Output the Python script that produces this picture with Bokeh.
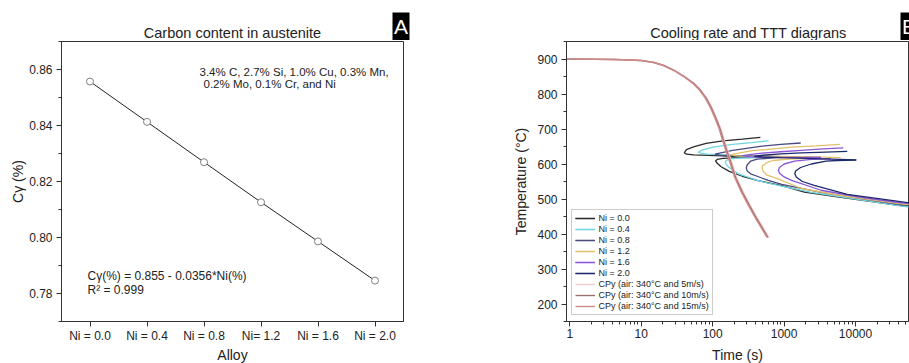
from bokeh.plotting import figure
from bokeh.layouts import row, column
from bokeh.models import (FactorRange, Range1d, SingleIntervalTicker, FixedTicker,
                          Label, Legend, LegendItem, BoxAnnotation, PrintfTickFormatter)
from bokeh.embed import file_html
from bokeh.resources import INLINE

FONT = "Liberation Sans"
TXT = "#222222"
AX = "#333333"

# ---------------- Panel A data ----------------
alloys = ["Ni = 0.0", "Ni = 0.4", "Ni = 0.8", "Ni= 1.2", "Ni = 1.6", "Ni = 2.0"]
c_gamma = [0.8557, 0.8413, 0.8269, 0.8126, 0.7986, 0.7846]

# ---------------- Panel B data ----------------
time_ticks = [1, 10, 100, 1000, 10000]
time_labels = ["1", "10", "100", "1000", "10000"]

# cooling curves (time s, temperature C)
cpy5_t = [0.9, 2.26, 4.25, 6.84, 10, 15.3, 21, 29, 40, 55, 68.5, 83, 97.5, 114, 130, 143, 162, 185, 216, 270, 337, 434, 615]
cpy10_t = [0.9, 2.26, 4.25, 6.84, 10, 15.1, 20.7, 28.4, 39, 53.6, 66.9, 80.9, 94.8, 111, 126, 139, 157, 179, 209, 261, 326, 420, 595]
cpy15_t = [0.9, 2.26, 4.25, 6.84, 10, 14.9, 20.4, 27.9, 38.2, 52.4, 65.3, 78.9, 92.3, 108, 122.5, 135, 152.5, 174, 203, 253, 316, 407, 577]
cpy_T = [900, 899.4, 898.6, 897.1, 895.7, 890, 881.4, 868.5, 851.3, 831.2, 811.2, 788.3, 762.5, 730.9, 702.3, 673.6, 639.3, 604.9, 562, 519, 481.7, 441.5, 390]

# TTT curves: upper curve and lower C-curve for each Ni content
ni00_up_t = [466, 261, 139, 81, 54, 43, 40, 43, 54, 139, 358, 1000]
ni00_up_T = [676, 671, 666, 659, 649, 641, 632, 628, 626, 623, 619, 619]
ni00_lo_t = [675, 223, 139, 116, 110, 116, 130, 171, 261, 420, 927, 1920, 5580, 40200, 66700]
ni00_lo_T = [619, 618, 616, 613, 609, 602, 593, 579, 565, 553, 538, 520, 506, 482, 476]

ni04_up_t = [608, 350, 190, 101, 72, 63, 70, 86, 223, 1273]
ni04_up_T = [666, 661, 656, 648, 640, 634, 630, 628, 624, 619]
ni04_lo_t = [492, 220, 170, 155, 150, 155, 170, 230, 420, 927, 2400, 40200, 66700]
ni04_lo_T = [619, 617, 614, 610, 606, 599, 590, 572, 553, 537, 519, 481, 475]

ni08_up_t = [1708, 900, 492, 190, 130, 108, 125, 190, 675, 3290]
ni08_up_T = [660, 656, 651, 639, 632, 628, 625, 624, 622, 619]
ni08_lo_t = [1746, 791, 420, 340, 305, 296, 305, 340, 420, 600, 927, 3290, 40200, 66700]
ni08_lo_T = [619, 618, 614, 608, 598, 589, 580, 572, 565, 553, 542, 519, 485, 479]

ni12_up_t = [6064, 2800, 1273, 600, 358, 230, 179, 220, 358, 1746, 6200]
ni12_up_T = [656, 652, 648, 642, 638, 631, 626, 623, 622, 621, 618]
ni12_lo_t = [2806, 1273, 700, 560, 500, 492, 510, 580, 791, 1746, 6200, 40200, 66700]
ni12_lo_T = [616, 615, 610, 603, 595, 589, 579, 568, 559, 530, 510, 487, 482]

ni16_up_t = [6750, 3500, 1746, 900, 492, 330, 261, 320, 492, 3290]
ni16_up_T = [646, 643, 639, 635, 631, 627, 624, 621, 619, 619]
ni16_lo_t = [4520, 2400, 1400, 1000, 860, 835, 860, 1000, 1273, 3290, 11700, 40200, 66700]
ni16_lo_T = [615, 613, 608, 600, 590, 582, 574, 563, 553, 525, 505, 490, 485]

ni20_up_t = [7660, 3800, 1746, 900, 500, 382, 500, 927, 10290]
ni20_up_T = [636, 634, 632, 629, 625, 622, 620, 618, 612]
ni20_lo_t = [10190, 5500, 3855, 2400, 1700, 1450, 1413, 1480, 1800, 2640, 7660, 40200, 66700]
ni20_lo_T = [611, 610, 608, 600, 590, 580, 572, 563, 550, 539, 513, 493, 487]

ni_labels = ["Ni = 0.0", "Ni = 0.4", "Ni = 0.8", "Ni = 1.2", "Ni = 1.6", "Ni = 2.0"]
ni_colors = ["#2b2b2b", "#6fd6e0", "#4a4a80", "#e3c06a", "#8a55d6", "#1e2a6e"]
cpy_labels = ["CPy (air: 340°C and 5m/s)", "CPy (air: 340°C and 10m/s)", "CPy (air: 340°C and 15m/s)"]
cpy_colors = ["#f2cccc", "#9b7070", "#d08a8a"]


def style_axis(ax, label_standoff, axis_standoff):
    ax.axis_line_color = AX
    ax.axis_line_width = 1
    ax.major_tick_line_color = AX
    ax.minor_tick_line_color = AX
    ax.major_tick_in = 0
    ax.major_tick_out = 5
    ax.minor_tick_in = 0
    ax.minor_tick_out = 3
    ax.major_label_text_font = FONT
    ax.major_label_text_font_size = "12px"
    ax.major_label_text_color = TXT
    ax.major_label_standoff = label_standoff
    ax.axis_label_text_font = FONT
    ax.axis_label_text_font_size = "14px"
    ax.axis_label_text_font_style = "normal"
    ax.axis_label_text_color = TXT
    ax.axis_label_standoff = axis_standoff


def strip(title, title_x, box_left, letter, letter_x):
    s = figure(width=460, height=40, x_range=Range1d(0, 460), y_range=Range1d(0, 40),
               output_backend="svg", toolbar_location=None, x_axis_location=None,
               y_axis_location=None, min_border=0)
    s.outline_line_color = None
    s.background_fill_color = "white"
    s.border_fill_color = "white"
    s.grid.visible = False
    s.add_layout(Label(x=title_x, y=8, text=title, text_font=FONT, text_font_size="14.5px",
                       text_color=TXT, text_align="center", text_baseline="middle"))
    s.add_layout(BoxAnnotation(left=box_left, right=box_left + 17, bottom=0, top=28,
                               fill_color="black", fill_alpha=1, line_color=None))
    s.add_layout(Label(x=letter_x, y=14.3, text=letter, text_font=FONT, text_font_size="21px",
                       text_color="white", text_align="center", text_baseline="middle"))
    return s


strip_a = strip("Carbon content in austenite", 232, 392, "A", 400.5)
strip_b = strip("Cooling rate and TTT diagrans", 288, 440, "B", 448.5)

# ================= Panel A =================
pa = figure(frame_width=348, frame_height=280, x_range=FactorRange(factors=alloys),
            y_range=Range1d(0.77, 0.87), output_backend="svg", toolbar_location=None,
            min_border_left=61, min_border_right=51, min_border_top=1, min_border_bottom=5)
pa.background_fill_color = "white"
pa.border_fill_color = "white"
pa.outline_line_color = AX
pa.outline_line_width = 1
pa.xgrid.grid_line_color = None
pa.ygrid.grid_line_color = None

pa.yaxis.ticker = SingleIntervalTicker(interval=0.02, num_minor_ticks=2)
pa.yaxis.formatter = PrintfTickFormatter(format="%.2f")
pa.xaxis.axis_label = "Alloy"
pa.yaxis.axis_label = "Cγ (%)"
style_axis(pa.xaxis[0], 2, 1)
style_axis(pa.yaxis[0], 4, 0)

pa.line(alloys, c_gamma, line_color="#222222", line_width=1)
pa.scatter(alloys, c_gamma, size=7, marker="circle", fill_color="white", line_color="#808080", line_width=1)

for txt, x, y, fs in [("3.4% C, 2.7% Si, 1.0% Cu, 0.3% Mn,", 138, 250, "11.5px"),
                      ("0.2% Mo, 0.1% Cr, and Ni", 142, 238, "11.5px"),
                      ("Cγ(%) = 0.855 - 0.0356*Ni(%)", 26, 46, "12px"),
                      ("R² = 0.999", 26, 32, "12px")]:
    pa.add_layout(Label(x=x, y=y, x_units="screen", y_units="screen", text=txt,
                        text_font=FONT, text_font_size=fs, text_color=TXT,
                        text_baseline="middle", text_align="left"))

# ================= Panel B =================
pb = figure(frame_width=348, frame_height=280, x_axis_type="log", x_range=Range1d(0.901, 55100),
            y_range=Range1d(150, 950), output_backend="svg", toolbar_location=None,
            min_border_left=111, min_border_right=1, min_border_top=1, min_border_bottom=5)
pb.background_fill_color = "white"
pb.border_fill_color = "white"
pb.outline_line_color = AX
pb.outline_line_width = 1
pb.xgrid.grid_line_color = None
pb.ygrid.grid_line_color = None

pb.xaxis.ticker = FixedTicker(ticks=time_ticks,
                              minor_ticks=[m * 10 ** k for k in range(0, 5) for m in range(2, 10)])
pb.xaxis.major_label_overrides = {t: s for t, s in zip(time_ticks, time_labels)}
pb.yaxis.ticker = SingleIntervalTicker(interval=100, num_minor_ticks=2)
pb.xaxis.axis_label = "Time (s)"
pb.yaxis.axis_label = "Temperature (°C)"
style_axis(pb.xaxis[0], 2, 6)
style_axis(pb.yaxis[0], 4, 5)

ttt = [(ni00_up_t, ni00_up_T, ni00_lo_t, ni00_lo_T),
       (ni04_up_t, ni04_up_T, ni04_lo_t, ni04_lo_T),
       (ni08_up_t, ni08_up_T, ni08_lo_t, ni08_lo_T),
       (ni12_up_t, ni12_up_T, ni12_lo_t, ni12_lo_T),
       (ni16_up_t, ni16_up_T, ni16_lo_t, ni16_lo_T),
       (ni20_up_t, ni20_up_T, ni20_lo_t, ni20_lo_T)]

items = []
for (ut, uT, lt, lT), lab, col in zip(ttt, ni_labels, ni_colors):
    r1 = pb.line(ut, uT, line_color=col, line_width=1.3)
    r2 = pb.line(lt, lT, line_color=col, line_width=1.3)
    items.append(LegendItem(label=lab, renderers=[r1, r2]))

for ct, lab, col in zip([cpy5_t, cpy10_t, cpy15_t], cpy_labels, cpy_colors):
    r = pb.line(ct, cpy_T, line_color=col, line_width=1.4)
    items.append(LegendItem(label=lab, renderers=[r]))

legend = Legend(items=items, location=(5, 6))
legend.border_line_color = "#999999"
legend.border_line_width = 1
legend.background_fill_color = "white"
legend.background_fill_alpha = 1
legend.padding = 3
legend.margin = 0
legend.spacing = 1
legend.label_height = 10
legend.glyph_height = 10
legend.glyph_width = 20
legend.label_standoff = 4
legend.label_text_font = FONT
legend.label_text_font_size = "9px"
legend.label_text_color = TXT
pb.add_layout(legend)

layout = column(row(strip_a, strip_b), row(pa, pb), width=909, height=363,
                styles={"overflow": "hidden"})
open("out.html", "w").write(file_html(layout, INLINE))
